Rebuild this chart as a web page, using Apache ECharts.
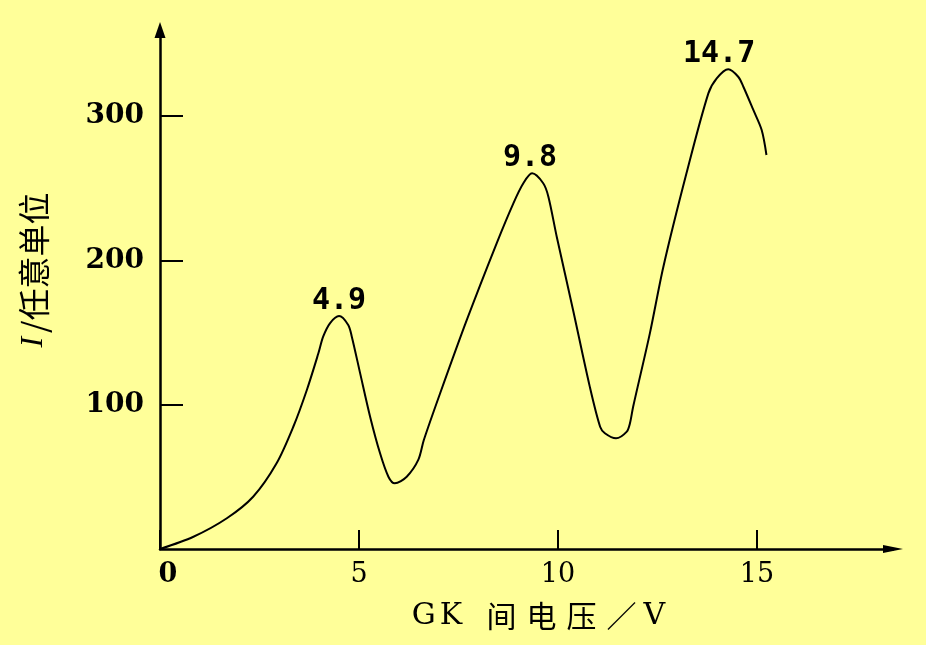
<!DOCTYPE html>
<html>
<head>
<meta charset="utf-8">
<script src="https://cdn.jsdelivr.net/npm/echarts@6/dist/echarts.min.js"></script>
<style>
html,body{margin:0;padding:0;background:#FFFF99;}
#chart{width:926px;height:645px;}
</style>
</head>
<body>
<div id="chart"></div>
<script>
// Voltage (V)
var voltage = [0, 0.84, 1.68, 2.34, 2.93, 3.35, 3.69, 3.98, 4.10, 4.27, 4.50, 4.73, 4.82, 5.03, 5.28, 5.53, 5.74, 5.90, 6.20, 6.49, 6.63, 7.04, 7.71, 8.46, 8.88, 9.13, 9.35, 9.63, 9.76, 9.97, 10.38, 10.80, 11.06, 11.18, 11.46, 11.73, 11.81, 11.89, 12.31, 12.65, 13.23, 13.78, 13.99, 14.28, 14.53, 14.66, 14.91, 15.12, 15.24];
// Current (arbitrary units)
var current = [0, 8.5, 21.3, 36.2, 59.4, 84.7, 110.2, 135.6, 147.1, 156.4, 161.4, 155.2, 147.1, 121.7, 91.7, 66.3, 50.1, 45.5, 50.1, 61.7, 75.5, 107.9, 158.7, 211.8, 239.5, 253.4, 260.3, 253.4, 244.1, 216.4, 165.6, 112.5, 84.7, 80.2, 76.7, 81.3, 87.1, 98.6, 149.4, 195.6, 260.3, 315.7, 326.1, 332.4, 327.2, 320.3, 304.2, 290.3, 273.0];
// Peak annotations
var peakLabels = ['4.9', '9.8', '14.7'];
var peakLabelX = [4.5, 9.3, 14.05];
var peakLabelY = [172, 271, 343];
// Axis ticks
var xTicks = [0, 5, 10, 15];
var yTicks = [100, 200, 300];
var xName = 'GK 间电压／V';
var yNameItalic = 'I';
var yNameRest = '/任意单位';

var lineData = voltage.map(function (v, i) { return [v, current[i]]; });
var peakData = peakLabels.map(function (t, i) { return [peakLabelX[i], peakLabelY[i], t]; });

function xNameRich(s) {
  return s.split('').map(function (ch) {
    if (ch === ' ') return '{s| }';
    if (/[A-Za-z]/.test(ch)) return '{l|' + ch + '}';
    return '{c|' + ch + '}';
  }).join('');
}

var chart = echarts.init(document.getElementById('chart'), null, {renderer: 'canvas'});
chart.setOption({
  backgroundColor: '#FFFF99',
  animation: false,
  grid: {left: 160, right: 33, top: 30, bottom: 96},
  xAxis: {
    type: 'value',
    min: 0,
    max: 18.42,
    interval: 5,
    splitLine: {show: false},
    axisLine: {
      onZero: false,
      symbol: ['none', 'triangle'],
      symbolSize: [8, 20],
      lineStyle: {color: '#000', width: 2.5}
    },
    axisTick: {inside: true, length: 19, customValues: xTicks, lineStyle: {color: '#000', width: 2}},
    axisLabel: {
      customValues: xTicks,
      margin: 12,
      formatter: function (v) { return v === 0 ? '{b|0}' : '{n|' + v + '}'; },
      rich: {
        b: {fontFamily: 'DejaVu Serif', fontWeight: 'bold', fontSize: 27, color: '#000', padding: [0, 0, 0, 16]},
        n: {fontFamily: 'DejaVu Serif', fontSize: 27, color: '#000'}
      }
    },
    name: xNameRich(xName),
    nameLocation: 'middle',
    nameGap: 52,
    nameTextStyle: {
      padding: [0, 0, 0, 24],
      rich: {
        l: {fontFamily: 'DejaVu Serif', fontSize: 30, color: '#000', padding: [0, 2, 0, 2]},
        c: {fontFamily: 'Noto Sans CJK SC', fontSize: 30, color: '#000', padding: [0, 5, 0, 5]},
        s: {fontFamily: 'DejaVu Serif', fontSize: 30, color: '#000', padding: [0, 4, 0, 4]}
      }
    }
  },
  yAxis: {
    type: 'value',
    min: 0,
    max: 359.6,
    interval: 100,
    splitLine: {show: false},
    axisLine: {
      onZero: false,
      symbol: ['none', 'triangle'],
      symbolSize: [11, 16],
      lineStyle: {color: '#000', width: 2.5}
    },
    axisTick: {inside: true, length: 23, customValues: yTicks, lineStyle: {color: '#000', width: 2}},
    axisLabel: {
      customValues: yTicks,
      margin: 16,
      fontFamily: 'DejaVu Serif',
      fontWeight: 'bold',
      fontSize: 28,
      color: '#000'
    },
    name: '{i|' + yNameItalic + '}{n|' + yNameRest + '}',
    nameLocation: 'middle',
    nameGap: 110,
    nameTextStyle: {
      padding: [0, 0, 0, 39],
      rich: {
        i: {fontFamily: 'Liberation Serif', fontStyle: 'italic', fontSize: 32, color: '#000', padding: [0, 4, 0, 0]},
        n: {fontFamily: 'Noto Sans CJK SC', fontSize: 32, color: '#000'}
      }
    }
  },
  series: [
    {
      type: 'line',
      data: lineData,
      smooth: 0.3,
      showSymbol: false,
      lineStyle: {color: '#000', width: 2},
      z: 3
    },
    {
      type: 'scatter',
      data: peakData,
      symbolSize: 1,
      itemStyle: {color: 'rgba(0,0,0,0)'},
      label: {
        show: true,
        position: 'inside',
        formatter: function (p) { return p.data[2]; },
        fontFamily: 'DejaVu Sans Mono',
        fontWeight: 'bold',
        fontSize: 30,
        color: '#000',
        textBorderWidth: 0,
        textBorderColor: 'transparent',
        opacity: 1
      }
    }
  ]
});
</script>
</body>
</html>
